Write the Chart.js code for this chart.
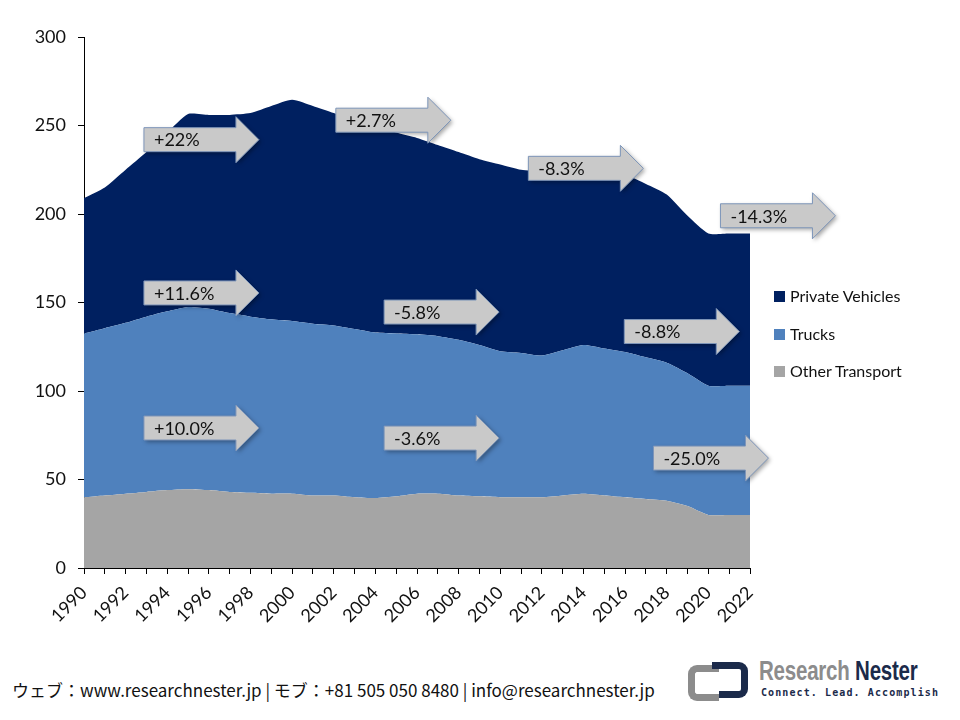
<!DOCTYPE html>
<html>
<head>
<meta charset="utf-8">
<script src="https://cdn.jsdelivr.net/npm/chart.js@4.4.1/dist/chart.umd.min.js"></script>
<style>
    body { margin: 0; background: #fff; width: 960px; height: 720px; overflow: hidden; position: relative; font-family: Lato, sans-serif; }
    #wrap { position: absolute; left: 0; top: 0; width: 960px; height: 650px; }
    #legend { position: absolute; left: 774px; top: 284px; }
    .item { position: relative; height: 37.5px; font-size: 16px; color: #111; white-space: nowrap; }
    .item span.box { position: absolute; left: 0; top: 7px; width: 11px; height: 11px; }
    .item span.lbl { position: absolute; left: 16px; top: 2px; line-height: 20px; }
    #footer { position: absolute; left: 12px; top: 677px; font-family: "Liberation Sans Narrow", "Noto Sans CJK JP", sans-serif; font-size: 17px; color: #111; white-space: nowrap; }
    #logo { position: absolute; left: 688px; top: 660px; width: 260px; height: 42px; white-space: nowrap; }
    .br { position: absolute; }
    .br.l { left: 0; top: 5px; width: 24px; height: 22px; border: 7px solid #8c8c8c; border-right: none; border-radius: 9px 0 0 9px; }
    .br.r { left: 31px; top: 2px; width: 22px; height: 22px; border: 7px solid #1b2a4a; border-left: none; border-radius: 0 9px 9px 0; }
    .br.s { left: 24px; top: 2px; width: 14px; height: 7px; background: #1b2a4a; }
    #brand { position: absolute; left: 71px; top: -4px; font-family: "Liberation Sans", sans-serif; font-weight: bold; font-size: 27px; transform: scaleX(0.76); transform-origin: left top; letter-spacing: -0.3px; }
    #brand .g { color: #8c8c8c; }
    #brand .n { color: #1b2a4a; }
    #tag { position: absolute; left: 73px; top: 27px; font-family: "DejaVu Sans Mono", monospace; font-weight: bold; font-size: 10px; color: #1b2a4a; letter-spacing: 1.1px; }
</style>
</head>
<body>
<div id="wrap"><canvas id="areaChart" width="960" height="650"></canvas></div>
<div id="legend"></div>
<div id="footer">ウェブ：www.researchnester.jp | モブ：+81 505 050 8480 | info@researchnester.jp</div>
<div id="logo">
    <div class="br l"></div><div class="br s"></div><div class="br r"></div>
    <div id="brand"><span class="g">Research</span> <span class="n">Nester</span></div>
    <div id="tag">Connect. Lead. Accomplish</div>
</div>
<script>
const years = ["1990", "1991", "1992", "1993", "1994", "1995", "1996", "1997", "1998", "1999",
    "2000", "2001", "2002", "2003", "2004", "2005", "2006", "2007", "2008", "2009",
    "2010", "2011", "2012", "2013", "2014", "2015", "2016", "2017", "2018", "2019",
    "2020", "2021", "2022"];

// bottom to top of the stack
const otherTransport = [40, 41, 42, 43, 44, 44.5, 44, 43, 42.5, 42,
    42, 41, 41, 40, 39.5, 40.5, 42, 42, 41, 40.5,
    40, 40, 40, 41, 42, 41, 40, 39, 38, 35,
    30, 30, 30];
const trucks = [92.5, 94.5, 96.5, 99, 101, 103, 102.5, 101, 99.5, 98.5,
    97.5, 97, 96, 95, 93.5, 92, 90, 89, 88, 85.5,
    82.5, 81.5, 80, 82, 84, 83, 82, 80, 78, 75,
    73, 73, 73];
const privateVehicles = [76.5, 79.5, 86.5, 93, 101, 109, 109.5, 112, 115, 120.5,
    125, 123, 120, 118, 117, 113.5, 111, 108, 106, 105,
    105.5, 103.5, 104, 101, 97, 99, 100, 98, 95, 89,
    86, 86, 86];

const seriesNames = ["Other Transport", "Trucks", "Private Vehicles"];
const seriesColors = ["#a5a5a5", "#4f81bd", "#002060"];

// change arrows: label, anchored at (year, value) of the arrow's left middle
const arrows = [
    { text: "+22%", year: 1992.88, value: 242 },
    { text: "+2.7%", year: 2002.1, value: 253 },
    { text: "-8.3%", year: 2011.35, value: 225.8 },
    { text: "-14.3%", year: 2020.58, value: 199 },
    { text: "+11.6%", year: 1992.88, value: 155.4 },
    { text: "-5.8%", year: 2004.42, value: 144.6 },
    { text: "-8.8%", year: 2015.96, value: 133.6 },
    { text: "+10.0%", year: 1992.88, value: 79.1 },
    { text: "-3.6%", year: 2004.42, value: 73.4 },
    { text: "-25.0%", year: 2017.36, value: 62.1 },
];

const arrowPlugin = {
    id: "arrows",
    afterDraw(chart) {
        const { ctx, scales } = chart;
        ctx.save();
        ctx.font = "18px Lato";
        ctx.textBaseline = "middle";
        arrows.forEach((a) => {
            const left = scales.x.getPixelForValue(a.year - 1990);
            const cy = scales.y.getPixelForValue(a.value);
            const bw = 92, bh = 12, hw = 23, hh = 23;
            ctx.beginPath();
            ctx.moveTo(left, cy - bh);
            ctx.lineTo(left + bw, cy - bh);
            ctx.lineTo(left + bw, cy - hh);
            ctx.lineTo(left + bw + hw, cy);
            ctx.lineTo(left + bw, cy + hh);
            ctx.lineTo(left + bw, cy + bh);
            ctx.lineTo(left, cy + bh);
            ctx.closePath();
            ctx.shadowColor = "rgba(0,0,0,0.35)";
            ctx.shadowBlur = 4;
            ctx.shadowOffsetX = 2;
            ctx.shadowOffsetY = 2;
            ctx.fillStyle = "#c9c9c9";
            ctx.fill();
            ctx.shadowColor = "transparent";
            ctx.strokeStyle = "#7d95b9";
            ctx.lineWidth = 1;
            ctx.stroke();
            ctx.fillStyle = "#111";
            ctx.fillText(a.text, left + 10, cy + 1);
        });
        ctx.restore();
    },
};

const values = [otherTransport, trucks, privateVehicles];

new Chart(document.getElementById("areaChart").getContext("2d"), {
    type: "line",
    data: {
        labels: years,
        datasets: values.map((v, i) => ({
            label: seriesNames[i],
            data: v,
            backgroundColor: seriesColors[i],
            borderWidth: 0,
            pointRadius: 0,
            tension: 0.2,
            fill: i === 0 ? "origin" : "-1",
        })),
    },
    options: {
        responsive: false,
        animation: false,
        layout: { padding: { left: 24, top: 37, right: 210, bottom: 4 } },
        plugins: { legend: { display: false }, tooltip: { enabled: false } },
        scales: {
            x: {
                offset: false,
                grid: { display: true, drawOnChartArea: false, drawTicks: true, tickLength: 6, color: "#000" },
                border: { display: true, color: "#000", width: 1 },
                ticks: {
                    autoSkip: false,
                    maxRotation: 45,
                    minRotation: 45,
                    padding: 8,
                    color: "#111",
                    font: { family: "Lato", size: 18 },
                    callback: (v, i) => (i % 2 === 0 ? years[i] : ""),
                },
                afterFit: (s) => { s.height = 78; },
            },
            y: {
                stacked: true,
                min: 0,
                max: 300,
                grid: { display: true, drawOnChartArea: false, drawTicks: true, tickLength: 6, color: "#000" },
                border: { display: true, color: "#000", width: 1 },
                ticks: { stepSize: 50, padding: 12, color: "#111", font: { family: "Lato", size: 18 } },
                afterFit: (s) => { s.width = 60; },
            },
        },
    },
    plugins: [arrowPlugin],
});

const legend = document.getElementById("legend");
[2, 1, 0].forEach((i) => {
    const row = document.createElement("div");
    row.className = "item";
    row.innerHTML = '<span class="box" style="background:' + seriesColors[i] + '"></span><span class="lbl">' + seriesNames[i] + "</span>";
    legend.appendChild(row);
});
</script>
</body>
</html>
